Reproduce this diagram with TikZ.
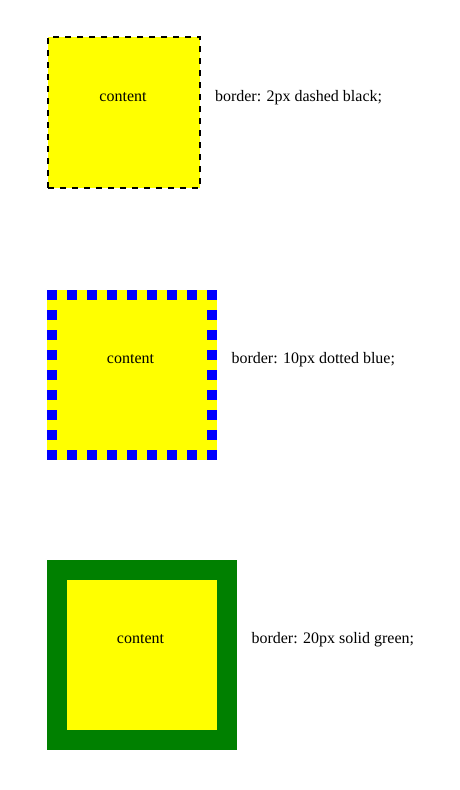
\documentclass[tikz,border=0pt]{standalone}
\usepackage{fontspec}
\setmainfont{Liberation Serif}
\usetikzlibrary{positioning}

\definecolor{cssyellow}{RGB}{255,255,0}
\definecolor{cssblue}{RGB}{0,0,255}
\definecolor{cssgreen}{RGB}{0,128,0}

\begin{document}
\begin{tikzpicture}[x=1pt,y=-1pt,
			every node/.style={
				inner sep=0pt,
				outer sep=0pt,
				font=\fontsize{16}{19}\selectfont
			},
			panel/.style={
				rectangle,
				fill=cssyellow
			},
			label/.style={anchor=base west},
			caption/.style={anchor=base}]
			
			\useasboundingbox (0,0) rectangle (460,790);
			
			% 2px dashed black
			\node (dashbox)[panel,draw=black,line width=2pt,dash pattern=on 6pt off 6pt,
				minimum width=152pt,minimum height=151pt] at (124,112.5){};
			
			\node (dashtext)[caption] at (123,101.5){content};
			
			\node (dashlabel)[label] at (215,101.5){border: 2px dashed black;};
			
			% 10px dotted blue
			\node (dotbox)[panel,minimum size=170pt] at (132,375){};
			
			\foreach \i in {0,...,8}{
				\fill[cssblue] (47+20*\i,290) rectangle ++(10,10);
				\fill[cssblue] (47+20*\i,450) rectangle ++(10,10);
				\fill[cssblue] (47,290+20*\i) rectangle ++(10,10);
				\fill[cssblue] (207,290+20*\i) rectangle ++(10,10);
			}
			
			\node (dottext)[caption] at (130.5,363){content};
			
			\node (dotlabel)[label] at (231.5,363){border: 10px dotted blue;};
			
			% 20px solid green
			\node (solidbox)[panel,draw=cssgreen,line width=20pt,minimum size=170pt] at (142,654.5){};
			
			\node (solidtext)[caption] at (140.5,643){content};
			
			\node (solidlabel)[label] at (251.5,643){border: 20px solid green;};
			
		\end{tikzpicture}
\end{document}
